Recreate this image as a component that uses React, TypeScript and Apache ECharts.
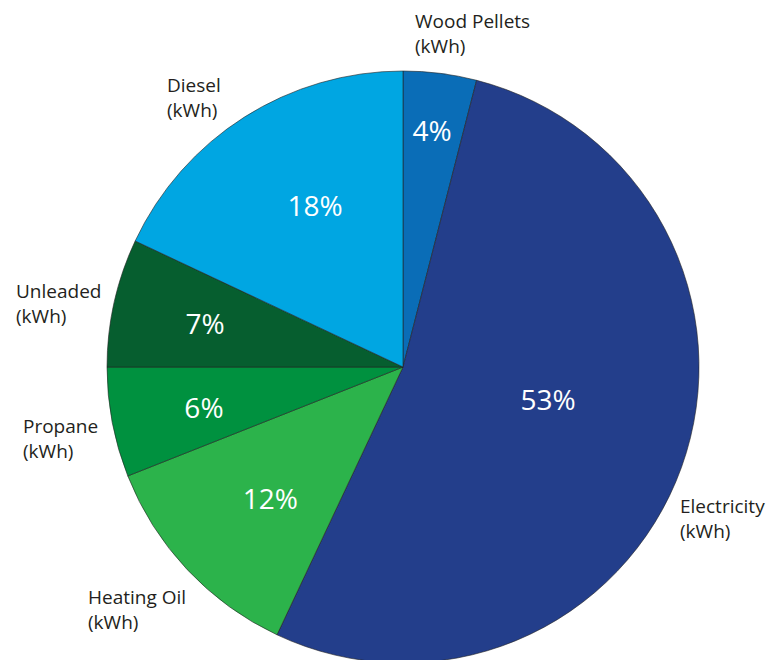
import React, { useEffect, useRef } from "react";
import * as echarts from "echarts";

const categories = ["Wood Pellets", "Electricity", "Heating Oil", "Propane", "Unleaded", "Diesel"];
const shares = [4, 53, 12, 6, 7, 18];
const unitLabel = "(kWh)";
const sliceColors = ["#0a6db7", "#233e8b", "#2cb34b", "#00913f", "#065e2f", "#00a6e2"];

// label placement (layout only): percent labels in polar form [angle from 12 o'clock, fraction of radius]
const pctLabelPolar: [number, number][] = [
  [7.0, 0.807],
  [102.4, 0.502],
  [225.4, 0.63],
  [258.6, 0.686],
  [282.5, 0.685],
  [331.5, 0.622],
];
// name labels: left edge / vertical middle, offset from centre in px
const nameLabelOffset: [number, number][] = [
  [12, -334],
  [277, 151],
  [-315, 242],
  [-380, 71],
  [-387, -64],
  [-236, -270],
];

const CX = 403;
const CY = 367;
const R = 296;

export default function App() {
  const ref = useRef<HTMLDivElement>(null);
  useEffect(() => {
    document.body.style.margin = "0";
    const chart = echarts.init(ref.current!, null, { renderer: "svg" });
    const data = categories.map((name, i) => ({
      name,
      value: shares[i],
      itemStyle: { color: sliceColors[i] },
    }));
    chart.setOption({
      animation: false,
      backgroundColor: "#ffffff",
      series: [
        {
          type: "pie",
          center: [CX, CY],
          radius: R,
          startAngle: 90,
          clockwise: true,
          silent: true,
          itemStyle: { borderColor: "rgba(35,35,35,0.75)", borderWidth: 0.8 },
          label: {
            show: true,
            position: "inside",
            formatter: "{c}%",
            color: "#ffffff",
            fontFamily: "Open Sans",
            fontSize: 28,
          },
          labelLine: { show: false },
          labelLayout: (p: any) => {
            const [a, f] = pctLabelPolar[p.dataIndex];
            const rad = (a * Math.PI) / 180;
            return {
              x: CX + Math.sin(rad) * f * R,
              y: CY - Math.cos(rad) * f * R,
              align: "center",
              verticalAlign: "middle",
            };
          },
          data,
        },
        {
          type: "pie",
          center: [CX, CY],
          radius: R,
          startAngle: 90,
          clockwise: true,
          silent: true,
          itemStyle: { color: "transparent", borderWidth: 0 },
          label: {
            show: true,
            position: "outside",
            formatter: (p: any) => p.name + "\n" + unitLabel,
            color: "#231f20",
            fontFamily: "Open Sans",
            fontSize: 19,
            lineHeight: 25,
            align: "left",
            overflow: "none",
            width: 200,
          },
          labelLine: { show: false },
          labelLayout: (p: any) => {
            const [dx, dy] = nameLabelOffset[p.dataIndex];
            return {
              x: CX + dx,
              y: CY + dy,
              align: "left",
              verticalAlign: "middle",
              width: 200,
            };
          },
          data: categories.map((name, i) => ({ name, value: shares[i] })),
        },
      ],
    });
    return () => chart.dispose();
  }, []);
  return (
    <div
      ref={ref}
      style={{ position: "absolute", left: 0, top: 0, width: 783, height: 660 }}
    />
  );
}
